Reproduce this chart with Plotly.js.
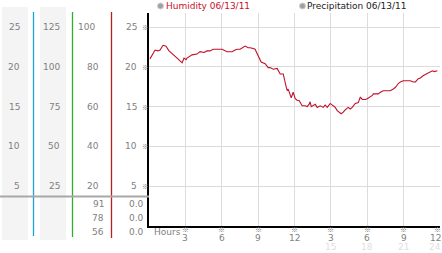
<!DOCTYPE html>
<html>
<head>
<meta charset="utf-8">
<script src="https://cdn.plot.ly/plotly-3.0.1.min.js"></script>
<style>html,body{margin:0;padding:0;background:#fff;}#chart{width:442px;height:253px;}</style>
</head>
<body>
<div id="chart"></div>
<script>
// ---- data ----
const hours = [0.08,0.50,0.74,0.91,1.16,1.40,1.65,1.98,2.39,2.73,2.89,3.06,3.14,3.55,3.96,4.21,4.54,4.79,5.04,5.28,5.70,6.03,6.44,6.85,7.10,7.27,7.51,7.76,7.93,8.18,8.34,8.59,8.75,9.00,9.25,9.58,9.83,9.99,10.24,10.57,10.82,11.07,11.23,11.31,11.40,11.48,11.73,11.89,12.06,12.22,12.39,12.63,12.88,13.05,13.21,13.29,13.38,13.54,13.71,13.87,14.12,14.37,14.53,14.70,14.95,15.19,15.36,15.52,15.69,15.85,16.02,16.18,16.43,16.60,16.76,17.01,17.26,17.43,17.59,17.84,18.00,18.25,18.42,18.50,18.91,19.08,19.32,19.65,19.90,20.15,20.31,20.56,20.73,20.97,21.30,21.55,21.80,21.97,22.21,22.38,22.63,22.87,23.04,23.20,23.37,23.53,23.78];
const humidity = [21.0,22.1,22.0,22.1,22.7,22.6,22.0,21.6,21.0,20.5,21.1,20.9,21.1,21.5,21.6,21.9,21.8,22.0,22.0,22.2,22.2,22.2,21.9,21.9,22.1,22.2,22.2,22.4,22.6,22.4,22.4,22.3,22.2,21.4,20.6,20.4,19.9,19.9,19.7,19.8,19.1,19.1,17.8,17.5,17.0,17.2,16.1,16.8,16.0,15.8,15.75,15.1,15.1,15.0,15.3,15.6,15.0,15.1,15.3,14.9,15.1,14.9,15.2,14.9,15.4,15.1,14.9,14.5,14.3,14.1,14.3,14.6,14.9,14.7,14.9,15.4,15.5,16.2,15.9,15.9,16.0,16.2,16.4,16.6,16.6,16.8,17.0,17.0,17.0,17.2,17.4,17.9,18.1,18.25,18.2,18.25,18.1,18.1,18.5,18.6,18.9,19.1,19.3,19.4,19.5,19.4,19.5];

const rowVals = [25,20,15,10,5];
const col1Labels = ["25","20","15","10","5"];
const col2Labels = ["125","100","75","50","25"];
const col3Labels = ["100","80","60","40","20"];
const col4Labels = ["25","20","15","10","5"];
const curCol3 = ["91","78","56"];
const curCol4 = ["0.0","0.0","0.0"];
const xTickVals = [3,6,9,12,15,18,21,24];
const xTickText = ["3","6","9","12","3","6","9","12"];
const x2TickVals = [15,18,21,24];
const x2TickText = ["15","18","21","24"];
const legendNames = ["Humidity 06/13/11","Precipitation 06/13/11"];

// ---- layout helpers (pixel -> paper) ----
const L = 149, R = 2, T = 13, B = 27, W = 442, H = 253;
const pw = W - L - R, ph = H - T - B;
const px = x => (x - L) / pw;
const py = y => (H - B - y) / ph;

const FONT = "DejaVu Sans";
const MARKFONT = "Noto Sans CJK JP";
const GREY = "#808080";
const MARKC = "#777";
const FS = 9;
const ann = [];
function txt(text, x, xref, y, yref, xanchor, size, color, fam) {
  ann.push({text: text, x: x, xref: xref, y: y, yref: yref, xanchor: xanchor, yanchor: "middle",
    showarrow: false, font: {family: fam || FONT, size: size, color: color}, borderpad: 0});
}
// left panel labels
rowVals.forEach((v, i) => {
  txt(col1Labels[i], px(20.5), "paper", v, "y", "right", FS, GREY);
  txt(col2Labels[i], px(60.5), "paper", v, "y", "right", FS, GREY);
  txt(col3Labels[i], col3Labels[i].length > 2 ? px(95.5) : px(99.5), "paper", v, "y", "right", FS, GREY);
  txt(col4Labels[i], px(137.5), "paper", v, "y", "right", FS, GREY);
  txt("※", px(145.5), "paper", v, "y", "center", 7, MARKC, MARKFONT);
});
const curY = [204, 218, 232];
curCol3.forEach((t, i) => txt(t, px(104.5), "paper", py(curY[i]), "paper", "right", FS, GREY));
curCol4.forEach((t, i) => txt(t, px(144.5), "paper", py(curY[i]), "paper", "right", FS, GREY));
// x tick labels
txt("Hours", px(153), "paper", py(232), "paper", "left", FS, GREY);
xTickVals.forEach((v, i) => {
  const last = i === xTickVals.length - 1;
  txt("※", last ? px(442) : v, last ? "paper" : "x", py(229.5), "paper", last ? "right" : "center", 7, MARKC, MARKFONT);
  txt(xTickText[i], last ? px(442) : v, last ? "paper" : "x", py(238), "paper", last ? "right" : "center", FS, GREY);
});
x2TickVals.forEach((v, i) => {
  const last = i === x2TickVals.length - 1;
  txt(x2TickText[i], last ? px(442) : v, last ? "paper" : "x", py(247), "paper", last ? "right" : "center", FS, "#e0e0e0");
});
// legend texts
txt(legendNames[0], px(165), "paper", py(6), "paper", "left", FS, "#c8102e");
txt(legendNames[1], px(306), "paper", py(6), "paper", "left", FS, "#222");

// ---- shapes ----
const shapes = [];
function rect(x0, y0, x1, y1, fill) {
  shapes.push({type: "rect", xref: "paper", yref: "paper", x0: px(x0), x1: px(x1), y0: py(y1), y1: py(y0),
    fillcolor: fill, line: {width: 0}, layer: "below"});
}
function vline(x, y0, y1, color, w) {
  shapes.push({type: "line", xref: "paper", yref: "paper", x0: px(x), x1: px(x), y0: py(y0), y1: py(y1),
    line: {color: color, width: w}});
}
rect(2, 7, 28, 240, "#f4f4f4");
rect(40, 7, 66, 240, "#f4f4f4");
vline(33.5, 12, 236, "#1ea0d8", 1.3);
vline(72.5, 12, 237, "#2fae2f", 1.3);
vline(111.5, 12, 238, "#b82020", 1.3);
shapes.push({type: "line", xref: "paper", yref: "paper", x0: px(0), x1: px(149), y0: py(196.5), y1: py(196.5),
  line: {color: "#a8a8a8", width: 2}});
function circ(cx, cy) {
  shapes.push({type: "circle", xref: "paper", yref: "paper", x0: px(cx - 3), x1: px(cx + 3), y0: py(cy + 3), y1: py(cy - 3),
    fillcolor: "#a0a0a0", line: {color: "#d0d0d0", width: 1}});
}
circ(160.5, 6);
circ(302.5, 6);

const data = [{
  x: hours, y: humidity, type: "scatter", mode: "lines",
  line: {color: "#c0102a", width: 1.1}, hoverinfo: "skip"
}];

const layout = {
  width: W, height: H,
  margin: {l: L, r: R, t: T, b: B, pad: 0},
  paper_bgcolor: "#fff", plot_bgcolor: "#fff",
  showlegend: false,
  font: {family: FONT, size: FS, color: GREY},
  xaxis: {range: [0, 24], tickvals: xTickVals, showticklabels: false, ticks: "",
    showgrid: true, gridcolor: "#dcdcdc", gridwidth: 1, zeroline: false,
    showline: true, linecolor: "#000", linewidth: 2, fixedrange: true},
  yaxis: {range: [0, 26.76], tickvals: rowVals, showticklabels: false, ticks: "",
    showgrid: true, gridcolor: "#dcdcdc", gridwidth: 1, zeroline: false,
    showline: true, linecolor: "#000", linewidth: 2, fixedrange: true},
  annotations: ann,
  shapes: shapes
};
Plotly.newPlot("chart", data, layout, {staticPlot: true, displayModeBar: false});
</script>
</body>
</html>
